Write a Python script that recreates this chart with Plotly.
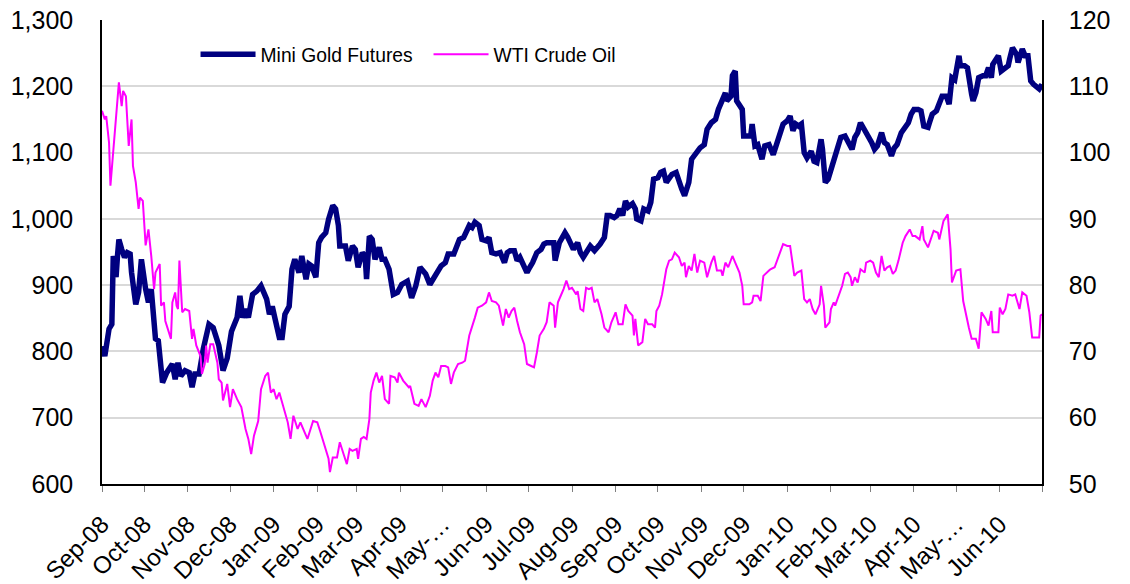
import pandas as pd
import plotly.graph_objects as go

START = pd.Timestamp("2008-09-01")
END = pd.Timestamp("2010-07-01")

# (days since 1 Sep 2008, price)
GOLD = [
    (0, 808), (2, 793), (5, 834), (7, 841), (8, 944), (10, 912), (11, 944), (12, 969), (14, 954),
    (16, 942), (18, 949), (20, 947), (21, 919), (24, 871), (26, 889), (28, 939), (31, 894), (33, 874),
    (35, 894), (38, 819), (40, 816), (43, 753), (46, 768), (50, 781), (52, 758), (54, 783), (56, 763),
    (59, 771), (62, 768), (64, 746), (66, 766), (69, 766), (72, 804), (76, 841), (79, 836), (83, 809),
    (86, 771), (89, 790), (92, 830), (94, 844), (96, 851), (98, 884), (100, 851), (102, 864), (104, 851),
    (107, 886), (110, 891), (113, 899), (115, 891), (117, 879), (119, 856), (121, 868), (123, 849),
    (126, 821), (128, 821), (130, 856), (133, 868), (135, 924), (137, 939), (140, 919), (142, 944),
    (145, 909), (147, 932), (149, 929), (152, 912), (154, 964), (156, 972), (159, 979), (161, 999),
    (164, 1020), (166, 1015), (168, 990), (169, 959), (173, 959), (175, 937), (178, 959), (180, 954),
    (182, 927), (185, 949), (187, 944), (188, 909), (190, 974), (192, 969), (194, 939), (197, 957),
    (199, 939), (201, 939), (204, 924), (207, 886), (210, 889), (213, 901), (217, 906), (220, 881),
    (223, 899), (226, 927), (230, 917), (233, 901), (237, 914), (241, 929), (244, 934), (246, 947),
    (250, 947), (254, 969), (257, 972), (261, 990), (263, 987), (265, 995), (268, 990), (270, 969),
    (273, 967), (275, 972), (277, 949), (280, 947), (283, 949), (286, 934), (288, 949), (290, 952),
    (293, 952), (295, 937), (297, 942), (299, 934), (302, 919), (304, 927), (306, 934), (309, 949),
    (312, 954), (314, 962), (316, 964), (321, 964), (322, 937), (325, 964), (327, 972), (329, 979),
    (331, 972), (333, 962), (335, 954), (338, 964), (340, 949), (342, 942), (345, 954), (347, 959),
    (350, 952), (352, 959), (354, 962), (357, 972), (359, 1005), (361, 1005), (364, 1002), (366, 1005),
    (368, 1015), (370, 1005), (372, 1027), (374, 1018), (377, 1023), (379, 1015), (380, 1000),
    (383, 997), (385, 1015), (388, 1012), (390, 1025), (392, 1060), (395, 1062), (397, 1070),
    (399, 1072), (401, 1055), (403, 1060), (405, 1067), (408, 1070), (410, 1055), (412, 1045),
    (414, 1035), (417, 1055), (419, 1090), (422, 1100), (425, 1107), (428, 1112), (430, 1135),
    (433, 1145), (436, 1150), (438, 1165), (441, 1178), (443, 1190), (444, 1178), (447, 1185),
    (448, 1216), (450, 1223), (451, 1178), (453, 1173), (455, 1165), (456, 1125), (459, 1125),
    (461, 1125), (462, 1143), (464, 1110), (466, 1112), (469, 1090), (471, 1110), (474, 1112),
    (477, 1097), (480, 1117), (482, 1128), (484, 1143), (487, 1148), (489, 1155), (491, 1133),
    (493, 1143), (495, 1140), (497, 1143), (499, 1100), (501, 1092), (504, 1102), (506, 1087),
    (508, 1085), (511, 1120), (512, 1105), (514, 1055), (516, 1060), (518, 1075), (520, 1090),
    (523, 1105), (525, 1123), (528, 1125), (530, 1115), (533, 1105), (535, 1123), (537, 1130),
    (539, 1145), (542, 1135), (544, 1128), (547, 1115), (549, 1105), (551, 1110), (554, 1130),
    (556, 1115), (558, 1112), (561, 1095), (563, 1107), (565, 1112), (568, 1130), (570, 1135),
    (573, 1145), (575, 1158), (577, 1165), (580, 1165), (582, 1163), (584, 1140), (587, 1138),
    (588, 1145), (590, 1158), (593, 1163), (595, 1175), (597, 1185), (600, 1185), (602, 1173),
    (604, 1213), (606, 1210), (609, 1246), (610, 1231), (613, 1231), (615, 1228), (618, 1188),
    (619, 1178), (621, 1190), (623, 1213), (626, 1216), (628, 1216), (630, 1228), (632, 1213),
    (633, 1233), (637, 1246), (639, 1223), (641, 1226), (644, 1231), (645, 1241), (647, 1258),
    (650, 1248), (651, 1236), (654, 1256), (656, 1246), (658, 1246), (660, 1208), (662, 1203),
    (664, 1198), (666, 1196), (668, 1203),
]

OIL = [
    (0, 106.3), (2, 105.0), (3, 105.5), (5, 101.5), (6, 95.0), (8, 100.5), (10, 106.0), (12, 110.6),
    (14, 107.0), (15, 109.3), (17, 108.5), (19, 101.0), (21, 105.0), (22, 98.0), (24, 95.5), (26, 91.5),
    (27, 93.2), (29, 92.7), (31, 86.0), (33, 88.4), (35, 84.4), (37, 79.4), (38, 81.9), (41, 83.2),
    (42, 76.9), (44, 77.4), (45, 74.6), (47, 73.4), (49, 71.9), (50, 77.4), (52, 78.9), (53, 76.9),
    (54, 76.4), (55, 83.7), (57, 75.9), (59, 76.4), (62, 76.1), (64, 71.9), (65, 73.4), (67, 70.9),
    (70, 69.3), (71, 66.6), (73, 68.1), (74, 70.9), (75, 68.3), (77, 71.1), (79, 71.1), (82, 68.3),
    (83, 65.8), (85, 65.3), (86, 62.6), (89, 65.1), (91, 61.6), (93, 64.3), (96, 62.8), (99, 61.6),
    (102, 58.3), (104, 56.8), (106, 54.5), (108, 57.3), (111, 59.5), (113, 64.3), (116, 66.3),
    (118, 66.8), (120, 63.8), (122, 64.3), (124, 62.8), (126, 63.8), (129, 61.6), (132, 59.3),
    (134, 56.8), (136, 60.3), (139, 58.3), (141, 59.3), (144, 57.8), (146, 56.8), (150, 59.5),
    (153, 59.3), (155, 58.0), (156, 57.3), (159, 55.3), (161, 53.8), (162, 51.8), (164, 54.0),
    (167, 54.0), (169, 56.3), (172, 54.3), (174, 53.0), (176, 55.3), (178, 55.0), (181, 55.3),
    (182, 53.8), (184, 56.8), (186, 57.1), (188, 56.8), (190, 59.8), (191, 63.8), (193, 65.6),
    (195, 66.8), (197, 65.3), (199, 66.3), (201, 62.8), (204, 62.1), (205, 66.3), (208, 66.1),
    (210, 65.3), (211, 66.8), (214, 65.6), (218, 64.6), (219, 64.8), (222, 62.1), (225, 61.8),
    (227, 62.8), (230, 61.6), (233, 63.3), (235, 65.6), (237, 66.8), (239, 66.1), (241, 67.8),
    (244, 67.8), (246, 67.6), (248, 65.1), (250, 66.8), (253, 68.1), (256, 68.3), (258, 68.6),
    (261, 72.4), (263, 73.6), (265, 75.1), (267, 76.6), (270, 76.9), (273, 77.4), (275, 78.9),
    (277, 77.6), (280, 77.4), (282, 76.9), (285, 73.9), (287, 76.4), (289, 75.1), (291, 76.1),
    (293, 76.6), (295, 74.6), (297, 72.9), (300, 71.1), (302, 68.1), (305, 67.8), (307, 67.6),
    (309, 69.8), (311, 72.4), (314, 73.4), (316, 74.4), (318, 77.4), (321, 76.9), (322, 73.6),
    (324, 77.4), (326, 78.4), (328, 79.4), (330, 80.7), (332, 79.4), (334, 79.6), (337, 78.6),
    (338, 79.1), (340, 76.4), (342, 76.1), (344, 79.6), (346, 79.4), (348, 79.6), (350, 77.4),
    (352, 77.9), (355, 75.6), (357, 73.6), (360, 72.9), (362, 74.4), (365, 75.9), (367, 74.1),
    (370, 74.1), (372, 77.1), (374, 76.1), (377, 75.4), (378, 72.4), (379, 74.9), (381, 70.9),
    (384, 71.4), (386, 74.9), (388, 74.1), (391, 74.1), (393, 73.6), (394, 76.1), (396, 76.9),
    (398, 78.6), (401, 82.4), (403, 83.7), (405, 83.9), (407, 84.9), (410, 84.2), (412, 82.9),
    (414, 83.4), (415, 81.2), (417, 82.9), (419, 82.2), (421, 84.7), (423, 81.9), (425, 83.7),
    (428, 83.4), (430, 81.2), (433, 83.4), (435, 84.4), (437, 82.2), (440, 82.2), (441, 81.4),
    (443, 83.4), (445, 82.7), (448, 84.4), (450, 83.4), (453, 81.9), (455, 79.9), (456, 77.1),
    (460, 77.1), (462, 77.4), (463, 78.4), (466, 78.4), (468, 77.6), (470, 81.4), (474, 82.2),
    (475, 82.4), (478, 82.7), (480, 83.9), (482, 85.2), (484, 86.2), (487, 85.9), (489, 85.9),
    (491, 82.9), (492, 81.4), (494, 81.9), (497, 82.2), (499, 77.9), (501, 77.4), (503, 77.9),
    (505, 76.4), (507, 75.6), (510, 77.1), (511, 79.9), (513, 76.9), (514, 73.6), (517, 74.4),
    (518, 76.4), (520, 77.4), (521, 76.9), (524, 78.6), (526, 79.9), (528, 81.7), (530, 81.9),
    (532, 81.2), (533, 79.9), (535, 81.2), (537, 80.4), (539, 82.4), (542, 81.9), (543, 83.4),
    (546, 83.7), (548, 83.4), (550, 81.9), (552, 81.2), (554, 84.4), (556, 82.2), (558, 82.7),
    (560, 82.9), (562, 81.7), (564, 82.2), (566, 83.7), (569, 86.4), (571, 87.4), (574, 88.4),
    (576, 87.4), (578, 87.4), (581, 86.9), (583, 88.9), (584, 86.9), (587, 85.7), (589, 86.9),
    (591, 88.2), (594, 87.9), (595, 86.9), (598, 89.7), (601, 90.7), (603, 85.4), (604, 80.4),
    (607, 82.2), (610, 82.4), (612, 77.6), (614, 75.4), (616, 73.6), (618, 71.9), (621, 71.9),
    (623, 70.4), (625, 75.9), (628, 74.9), (630, 73.9), (632, 76.1), (633, 72.9), (637, 72.9),
    (638, 76.6), (640, 75.6), (642, 76.4), (644, 78.6), (647, 78.4), (649, 78.6), (652, 76.4),
    (654, 78.9), (657, 78.4), (659, 75.9), (661, 72.1), (664, 72.1), (666, 72.1), (667, 75.4),
    (668, 75.6),
]

TICK_LABELS = [
    "Sep-08", "Oct-08", "Nov-08", "Dec-08", "Jan-09", "Feb-09", "Mar-09", "Apr-09", "May-…",
    "Jun-09", "Jul-09", "Aug-09", "Sep-09", "Oct-09", "Nov-09", "Dec-09", "Jan-10", "Feb-10",
    "Mar-10", "Apr-10", "May-…", "Jun-10", "",
]

FONT = "Liberation Sans, Arial, sans-serif"


def to_dates(days):
    return START + pd.to_timedelta(days, unit="D")


gold_days, gold_px = zip(*GOLD)
oil_days, oil_px = zip(*OIL)
tick_dates = pd.date_range(START, END, freq="MS")

fig = go.Figure()
fig.add_trace(go.Scatter(
    x=to_dates(list(gold_days)), y=list(gold_px), name="Mini Gold Futures",
    mode="lines", line=dict(color="#000080", width=5.5),
))
fig.add_trace(go.Scatter(
    x=to_dates(list(oil_days)), y=list(oil_px), name="WTI Crude Oil",
    mode="lines", line=dict(color="#FF00FF", width=2), yaxis="y2",
))

# the page body adds an 8px offset, so margins are trimmed to keep the plot where the reference has it
fig.update_layout(
    width=1122,
    height=576,
    margin=dict(l=94, r=88, t=12, b=100),
    paper_bgcolor="white",
    plot_bgcolor="white",
    font=dict(family=FONT, size=24, color="black"),
    legend=dict(
        orientation="h", x=0.0995, y=0.925, xanchor="left", yanchor="middle",
        font=dict(size=19.3), bgcolor="rgba(0,0,0,0)", itemwidth=55,
        entrywidth=163, entrywidthmode="pixels",
    ),
    xaxis=dict(
        type="date", range=[START, END], automargin=False,
        tickmode="array", tickvals=tick_dates, ticktext=TICK_LABELS,
        tickangle=-45, tickfont=dict(size=24), ticklabelstandoff=9,
        ticks="outside", ticklen=6, tickcolor="#808080", ticklabeloverflow="allow",
        showline=True, linecolor="black", linewidth=1.5, showgrid=False,
    ),
    yaxis=dict(
        range=[600, 1300], dtick=100, tickformat=",", tickfont=dict(size=25),
        showgrid=True, gridcolor="#d9d9d9", gridwidth=1.5, automargin=False,
        showline=True, linecolor="black", linewidth=1.5, zeroline=False,
        ticklabelstandoff=22, ticklabeloverflow="allow",
    ),
    yaxis2=dict(
        range=[50, 120], dtick=10, overlaying="y", side="right", tickfont=dict(size=25),
        showgrid=False, showline=True, linecolor="black", linewidth=1.5, zeroline=False,
        ticklabelstandoff=20, automargin=False, ticklabeloverflow="allow",
    ),
)

fig.write_html("out.html")
